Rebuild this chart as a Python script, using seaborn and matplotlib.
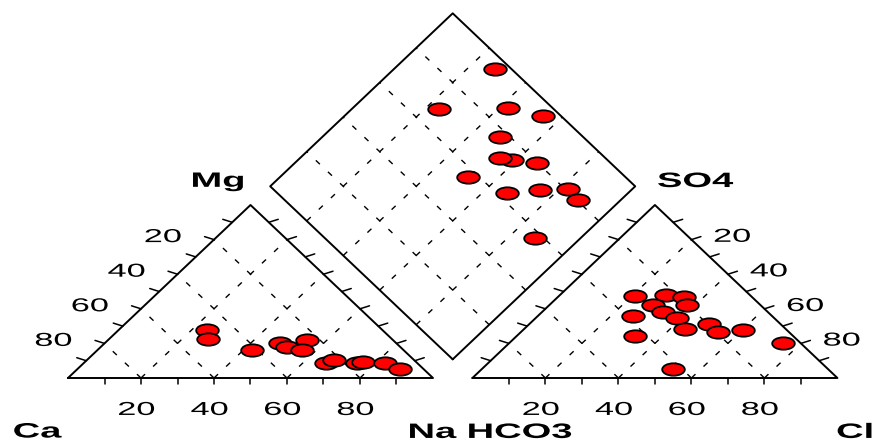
import numpy as np
import matplotlib
matplotlib.use("Agg")
import matplotlib.pyplot as plt
import seaborn as sns
import pandas as pd
from matplotlib.path import Path
from matplotlib.markers import MarkerStyle
from matplotlib.patheffects import AbstractPathEffect
from matplotlib.transforms import Affine2D

# ---------------- data (percent) ----------------
# cation triangle
cation_mg = [28.0, 22.5, 16.0, 20.0, 18.0, 22.0, 16.0, 8.5, 10.5, 8.5, 9.5, 8.5, 5.0]
cation_na = [24.0, 27.0, 42.5, 48.0, 51.0, 54.5, 56.0, 66.5, 67.5, 75.0, 76.0, 82.5, 88.5]
# anion triangle
anion_so4 = [47.4, 48.0, 46.8, 42.2, 42.2, 38.2, 35.8, 34.7, 28.3, 31.2, 26.6, 27.7, 24.3, 20.2, 5.2]
anion_cl = [20.8, 29.0, 34.5, 28.4, 37.6, 33.1, 26.1, 38.6, 44.0, 49.2, 53.9, 60.2, 32.4, 74.9, 52.3]
# diamond (Na+K % and Cl+SO4 %)
diamond_na = [27.7, 23.9, 42.5, 54.4, 48.7, 58.7, 54.8, 66.4, 51.5, 66.8, 75.0, 82.4, 88.3, 87.5]
diamond_so4cl = [95.5, 68.6, 87.8, 95.0, 77.2, 73.8, 71.2, 79.8, 56.9, 63.0, 72.9, 80.8, 80.4, 57.6]

tick_values = [20, 40, 60, 80]
left_edge_labels = ["80", "60", "40", "20"]
right_edge_labels = ["80", "60", "40", "20"]
bottom_labels = ["20", "40", "60", "80"]
corner_labels = ["Ca", "Na", "HCO3", "Cl", "Mg", "SO4"]

# ---------------- geometry ----------------
H = np.sqrt(3) / 2
GAP = 0.108
Y0 = GAP * H
XS = 1.83  # horizontal stretch of the reference picture


class HStretch(AbstractPathEffect):
    def __init__(self, sx):
        super().__init__()
        self.sx = sx

    def draw_path(self, renderer, gc, tpath, affine, rgbFace=None):
        ext = tpath.get_extents()
        cx = (ext.x0 + ext.x1) / 2
        pre = Affine2D().translate(-cx, 0).scale(self.sx, 1).translate(cx, 0)
        renderer.draw_path(gc, tpath, pre + affine, rgbFace)


sns.set_style("white")
plt.rcParams["font.family"] = ["Liberation Sans", "DejaVu Sans"]

fig = plt.figure(figsize=(8.79, 4.47), dpi=100)
ax = fig.add_axes([0, 0, 1, 1])

edge_kw = dict(color="black", lw=1.4, solid_capstyle="round", zorder=2)
grid_kw = dict(color="black", lw=1.0, ls=(0, (4, 8)), zorder=1)
tick_kw = dict(color="black", lw=1.1, zorder=2)
tick_len = 0.03


def tri_edges(x0):
    pts = np.array([[x0, 0], [x0 + 1, 0], [x0 + 0.5, H], [x0, 0]])
    ax.plot(pts[:, 0], pts[:, 1], **edge_kw)
    # dashed grids (two diagonal families)
    for v in tick_values:
        f = v / 100
        ax.plot([x0 + f, x0 + f + (1 - f) / 2], [0, (1 - f) * H], **grid_kw)
        ax.plot([x0 + 1 - f, x0 + (1 - f) / 2], [0, (1 - f) * H], **grid_kw)
    # ticks every 10 %
    for k in range(1, 10):
        f = k / 10
        ax.plot([x0 + f, x0 + f], [0, -tick_len], **tick_kw)
        px, py = x0 + f / 2, f * H
        ax.plot([px, px - tick_len * H], [py, py + tick_len * 0.5], **tick_kw)
        px, py = x0 + 1 - f / 2, f * H
        ax.plot([px, px + tick_len * H], [py, py + tick_len * 0.5], **tick_kw)


tri_edges(0.0)
tri_edges(1 + GAP)

# diamond
B = np.array([1 + GAP / 2, Y0])
U = np.array([-0.5, H])   # towards left vertex
V = np.array([0.5, H])    # towards right vertex
dia = np.array([B, B + U, B + U + V, B + V, B])
ax.plot(dia[:, 0], dia[:, 1], **edge_kw)
for v in tick_values:
    f = v / 100
    p0 = B + f * U
    p1 = p0 + V
    ax.plot([p0[0], p1[0]], [p0[1], p1[1]], **grid_kw)
    p0 = B + f * V
    p1 = p0 + U
    ax.plot([p0[0], p1[0]], [p0[1], p1[1]], **grid_kw)

# ---------------- points ----------------
mg = np.array(cation_mg) / 100
na = np.array(cation_na) / 100
so4 = np.array(anion_so4) / 100
cl = np.array(anion_cl) / 100
dna = np.array(diamond_na) / 100
dsc = np.array(diamond_so4cl) / 100

cat_x = na + mg / 2
cat_y = mg * H
an_x = 1 + GAP + cl + so4 / 2
an_y = so4 * H
d_xy = B[None, :] + (1 - dna)[:, None] * U[None, :] + dsc[:, None] * V[None, :]

df = pd.DataFrame({
    "x": np.concatenate([cat_x, an_x, d_xy[:, 0]]),
    "y": np.concatenate([cat_y, an_y, d_xy[:, 1]]),
})

circ = Path.unit_circle()
ell = Path(circ.vertices * np.array([1.0, 1.0 / XS]), circ.codes)
sns.scatterplot(data=df, x="x", y="y", ax=ax, marker=MarkerStyle(ell), s=265,
                color="#ff0000", edgecolor="black", linewidth=1.3, zorder=5,
                legend=False)
ax.set_xlim(-68 / 365, (879 - 68) / 365)
ax.set_ylim((378 - 447) / 199.76, 378 / 199.76)
ax.axis("off")

# ---------------- text ----------------
pe = [HStretch(XS)]
num_kw = dict(fontsize=13.5, ha="center", va="baseline", color="black", path_effects=pe)
lab_kw = dict(fontsize=15, fontweight="bold", ha="center", va="baseline", color="black",
              path_effects=pe)

for i, v in enumerate(tick_values):
    f = v / 100
    ax.text(f / 2 - 0.1397, f * H - 0.0125, left_edge_labels[i], **num_kw)
    ax.text(1 + GAP + 1 - f / 2 + 0.112, f * H - 0.0110, right_edge_labels[i], **num_kw)
    ax.text(f - 0.0123, -0.185, bottom_labels[i], **num_kw)
    ax.text(1 + GAP + f - 0.0123, -0.185, bottom_labels[i], **num_kw)

label_pos = {
    "Ca": (-0.0836, -0.298),
    "Na": (0.9986, -0.300),
    "HCO3": (1.238, -0.300),
    "Cl": (2.156, -0.300),
    "Mg": (0.411, 0.957),
    "SO4": (1.719, 0.956),
}
for name in corner_labels:
    x, y = label_pos[name]
    ax.text(x, y, name, **lab_kw)

fig.savefig("out.png", dpi=100)
